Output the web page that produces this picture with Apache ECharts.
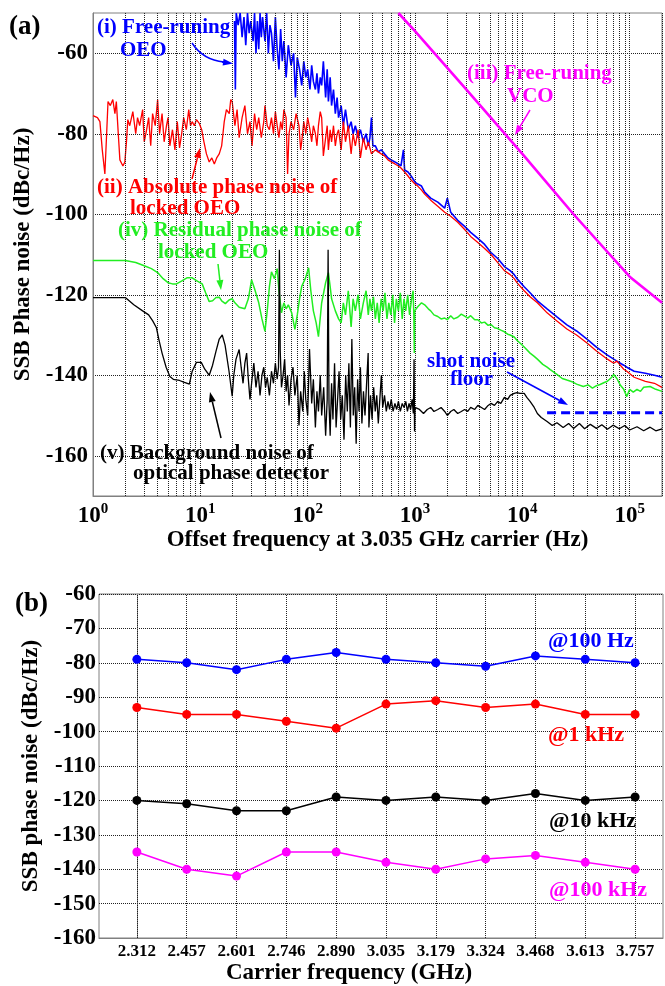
<!DOCTYPE html>
<html>
<head>
<meta charset="utf-8">
<script src="https://cdn.jsdelivr.net/npm/echarts@6/dist/echarts.min.js"></script>
<style>
html,body{margin:0;padding:0;background:#fff}
#chart{width:665px;height:986px}
</style>
</head>
<body>
<div id="chart"></div>
<script>
// ---- panel (a): phase noise traces, [offset Hz, dBc/Hz] ----
var freeOeo = [[20.8,-52],[21.2,-69],[21.6,-50],[22.5,-53],[23.5,-50],[24.5,-56],[25.5,-51],[26.5,-58],[27.5,-50],[28.5,-55],[29.5,-52],[31,-57],[32,-50],[33,-60],[34,-52],[35,-59],[36,-50],[37,-56],[38,-51],[40,-57],[41.5,-50],[43,-60],[44.5,-53],[46,-55],[48,-62],[50,-51],[52,-59],[54,-64],[56,-54],[58,-62],[60,-57],[63,-66],[66,-58],[70,-63],[74,-60],[77,-71],[80,-61],[84,-64],[88,-68],[92,-62],[96,-66],[100,-64],[105,-69],[109,-63],[113,-67],[118,-69],[122,-65],[126,-70],[131,-66],[135,-68],[140,-62],[147,-71],[152,-64],[156,-72],[162,-66],[167,-73],[174,-69],[181,-75],[188,-71],[194,-76],[205,-73],[215,-78],[225,-74],[239,-79],[254,-77],[265,-80],[278,-78],[295,-81],[310,-79],[330,-82],[350,-80],[367,-83],[380,-81],[393,-76],[405,-83],[427,-83],[454,-84.5],[484,-84],[520,-85],[560,-86],[600,-86.5],[650,-87],[700,-87.5],[740,-88],[780,-84],[800,-89],[860,-89.5],[920,-90.5],[1000,-92],[1060,-92.5],[1150,-93],[1230,-94.5],[1400,-96],[1630,-97],[1890,-98.5],[2000,-96],[2150,-99.5],[2500,-101.5],[2900,-103],[3300,-104.5],[3850,-106],[4450,-107.5],[5100,-109.5],[5900,-111],[6800,-113],[7700,-114],[8400,-115],[8900,-116],[10400,-118],[11800,-119.5],[13800,-121.5],[17000,-123.5],[21000,-125.5],[26000,-127.5],[32000,-129],[40000,-131],[49000,-133],[62000,-135],[71000,-136],[76000,-136.5],[88000,-137.5],[94000,-138],[110000,-139],[140000,-139.5],[170000,-140],[200000,-140.5]];

var lockedOeo = [[1,-75.5],[1.1,-76],[1.16,-77],[1.22,-84],[1.29,-90],[1.34,-80],[1.38,-72],[1.45,-73],[1.53,-71.5],[1.6,-75],[1.65,-72],[1.72,-80],[1.78,-86.5],[1.9,-88],[1.98,-87],[2.05,-82],[2.11,-76.5],[2.2,-78],[2.35,-74.5],[2.5,-80],[2.6,-76],[2.72,-78],[2.9,-74],[3.0,-82],[3.16,-79],[3.3,-76],[3.45,-83],[3.59,-75],[3.8,-78],[4.0,-71.5],[4.17,-80],[4.4,-75],[4.6,-82],[4.84,-78],[5.0,-76],[5.2,-83],[5.5,-79],[5.8,-84],[6.1,-77],[6.4,-83.5],[6.7,-80],[7.0,-76],[7.4,-79],[7.8,-74],[8.1,-78],[8.4,-77],[8.8,-78],[9.2,-76.5],[9.8,-77.5],[10.3,-79],[10.8,-82],[11.4,-85],[12.1,-87],[12.8,-86],[13.5,-87.5],[14.2,-86],[15,-85],[15.8,-83],[16.7,-77],[17.5,-74],[18.6,-75],[19.2,-71.5],[19.8,-72],[21,-78],[22,-74],[23,-81],[24.5,-76],[26,-73],[27.5,-80],[29,-77],[30.3,-83],[32,-75],[33.5,-79],[35,-76],[37,-81],[39,-77],[40,-73],[42,-78],[44,-79],[46,-76],[48,-80],[50,-74.5],[52,-78],[54,-81],[56,-77],[58,-79],[60,-74],[63,-76],[65,-90],[67,-80],[70,-77],[74,-79],[78,-75],[83,-78],[86,-84],[88,-82],[92,-77],[96,-80],[100,-76],[105,-79],[109,-82],[113,-78],[118,-80],[122,-83],[126,-78],[131,-74.5],[135,-76],[140,-85.5],[147,-81],[152,-78],[156,-84],[162,-79],[167,-82],[174,-78],[181,-83],[188,-80],[194,-79],[205,-84],[215,-77],[225,-82],[239,-78],[254,-85],[265,-80],[278,-83],[295,-79],[310,-86],[330,-81],[350,-84],[367,-82],[393,-85],[427,-84],[454,-84.5],[484,-85],[520,-85.5],[560,-86.5],[600,-87],[650,-87.5],[700,-88],[740,-88.5],[800,-89.5],[860,-90.5],[920,-91.5],[1000,-92.5],[1060,-93],[1150,-94],[1230,-95],[1400,-96.5],[1630,-98],[1890,-99.5],[2150,-100.5],[2500,-102],[2900,-103.8],[3300,-105.5],[3850,-107],[4450,-108.5],[5100,-110],[5900,-112],[6800,-114],[7700,-115],[8400,-116],[8900,-117],[10400,-119],[11800,-120.5],[13800,-122],[17000,-124.5],[21000,-126.5],[26000,-128.5],[32000,-130],[40000,-132],[49000,-134],[62000,-136],[71000,-137],[76000,-136.5],[88000,-138.5],[94000,-139],[110000,-140.5],[140000,-141.5],[170000,-142],[200000,-143]];

var freeVco = [[700,-50],[1000,-54.5],[3000,-69],[10000,-85],[30000,-100],[100000,-115.5],[200000,-122]];

var residual = [[1,-111.5],[2,-111.5],[2.5,-112],[3,-112.8],[3.5,-113.5],[4,-114.5],[4.5,-116],[5,-117],[5.5,-117.3],[6,-117.3],[6.8,-116.5],[7.5,-115.8],[8.4,-115.8],[9.2,-116.5],[10.4,-117.3],[11.2,-119.5],[12.1,-121.7],[13,-121.5],[14,-120.7],[15,-120.6],[15.8,-121.5],[17.1,-122.2],[18.5,-121.3],[19.8,-121],[21,-122],[23,-123.1],[26,-123.5],[28,-121],[30,-116.3],[32,-118.5],[35,-122],[37.5,-126],[40,-129.1],[42,-124],[44,-118],[46,-114.3],[49,-116],[52,-113.5],[54,-119],[57,-124.5],[60,-122],[63,-123.5],[66,-122.5],[71,-124.5],[76,-128.6],[80,-125],[84,-121],[88,-117.9],[95,-116],[102,-113.3],[107,-119],[113,-124],[120,-127],[126,-130.4],[135,-122],[147,-117],[156,-114.5],[162,-118],[167,-121],[181,-124],[194,-126],[205,-127],[215,-122],[225,-125],[239,-119],[254,-128],[265,-121],[278,-124],[295,-120],[310,-126],[330,-122],[350,-119],[367,-125],[380,-121],[393,-124],[410,-120.5],[427,-126],[445,-122],[463,-127],[484,-121],[505,-124],[525,-119.5],[548,-126],[570,-122],[595,-125],[620,-120],[645,-127],[670,-121],[700,-124],[730,-119.5],[760,-126],[790,-121],[820,-124],[855,-120],[890,-125],[930,-121],[960,-119],[975,-125],[985,-134.5],[992,-124],[1000,-124],[1060,-123],[1150,-122],[1230,-122.5],[1330,-123.5],[1400,-124],[1500,-125],[1630,-125.4],[1750,-126],[1890,-125.8],[2000,-126.2],[2150,-125.2],[2300,-126],[2500,-125.6],[2700,-124.8],[2900,-125.3],[3100,-125.8],[3300,-125.2],[3600,-126.2],[3850,-126.2],[4150,-127],[4450,-126.8],[4800,-127.6],[5100,-127.4],[5500,-128.2],[5900,-128.4],[6300,-128.8],[6800,-129.2],[7300,-129.8],[7700,-130],[8400,-130.5],[8900,-131.3],[9500,-132],[10400,-133],[11800,-134.5],[12900,-135.3],[13800,-136],[15500,-137.3],[17000,-138],[18200,-138.6],[21000,-139.8],[23500,-140.8],[26000,-141.2],[29000,-141.6],[32000,-142.2],[37000,-142.8],[41000,-142.4],[45000,-143.2],[49000,-142.6],[53000,-142.3],[58000,-141.8],[62000,-141.5],[68000,-140.5],[71000,-139.8],[76000,-140.8],[82000,-142.5],[88000,-143.5],[94000,-145.3],[100000,-143.5],[108000,-144.2],[117000,-143.5],[126000,-144],[135000,-143],[155000,-142.8],[175000,-143.5],[200000,-144]];

var background = [[1,-120.7],[2,-120.7],[2.4,-122.5],[2.9,-124],[3.3,-125],[3.6,-126.5],[3.9,-128.2],[4.1,-131],[4.4,-134.5],[4.8,-138],[5.2,-140.3],[5.6,-141],[6.4,-141.3],[7.0,-141.7],[7.9,-142.2],[8.4,-139],[9.2,-136.8],[10.2,-136.8],[11,-138.5],[12.1,-140],[13,-137.5],[14,-134],[15,-131],[16,-130],[17,-132.5],[18.5,-139],[19.8,-145.2],[20.5,-140],[21.5,-136],[23,-133.6],[24,-138],[25,-142],[26,-137],[27,-134.5],[28,-141],[29,-146],[30.3,-141],[31.5,-137],[33,-143],[34.5,-139],[36,-145],[37.5,-140],[39,-138],[40.5,-143],[42,-140.5],[44,-145],[46,-139],[48,-142],[50,-137],[52,-141],[53.5,-138],[54.5,-108.8],[55.5,-134],[57,-143],[59,-140],[61,-136],[63,-144],[65,-140],[67,-147.5],[70,-141],[73,-138],[76,-145],[80,-140],[83,-152.5],[86,-144],[90,-149],[93,-139],[96,-146],[100,-150],[104,-133.5],[109,-147],[113,-141],[118,-153],[122,-144],[126,-149],[131,-140],[135,-150],[141,-143],[147,-155],[152,-146],[155,-108.8],[158,-147],[162,-155],[167,-142],[172,-151],[178,-137],[184,-153],[190,-146],[196,-139],[203,-151],[210,-145],[218,-156],[226,-140],[234,-149],[242,-137],[250,-153],[258,-131],[266,-150],[274,-143],[283,-157],[292,-141],[301,-149],[310,-138],[320,-152],[331,-144],[342,-150],[354,-142],[366,-134.5],[372,-153],[385,-145],[398,-151],[412,-143],[426,-149],[440,-145],[455,-152],[470,-146],[486,-140],[500,-148],[520,-145],[540,-149],[560,-146.5],[580,-148.5],[600,-146],[625,-149],[650,-147],[675,-148.5],[700,-146.5],[730,-149],[760,-147],[790,-148],[820,-146.5],[850,-149],[880,-147],[910,-148.5],[940,-146],[965,-149.5],[980,-136],[990,-154],[1000,-148],[1100,-148.5],[1200,-149.5],[1300,-148.5],[1400,-148],[1500,-149],[1630,-148.5],[1750,-148],[1890,-149],[2000,-150],[2150,-149],[2300,-148.5],[2500,-149.5],[2700,-149],[2900,-148.5],[3100,-149],[3300,-148],[3600,-148.5],[3850,-147.5],[4150,-148],[4450,-148.5],[4800,-147.5],[5100,-147],[5500,-147.5],[5900,-146.5],[6300,-147],[6800,-145.5],[7300,-146],[7700,-145],[8400,-144.5],[8900,-144.3],[9500,-144.5],[10400,-144.5],[11000,-145.5],[11800,-146.5],[12900,-148],[13800,-149.5],[15000,-150.5],[17000,-151.5],[19000,-152.5],[21000,-151.8],[24000,-153],[27000,-152],[30000,-153.2],[34000,-152],[38000,-153.3],[43000,-152.2],[49000,-153.2],[55000,-152.3],[62000,-153.4],[70000,-152.4],[80000,-153.3],[90000,-152.5],[100000,-153.6],[117000,-152.8],[135000,-153.8],[155000,-152.9],[175000,-153.8],[200000,-153.3]];

var shotFloor = [[17000,-149.3],[200000,-149.3]];

// ---- panel (b): phase noise vs carrier ----
var carriers = ['2.312','2.457','2.601','2.746','2.890','3.035','3.179','3.324','3.468','3.613','3.757'];
var pn100Hz  = [-79,-80,-82,-79,-77,-79,-80,-81,-78,-79,-80];
var pn1kHz   = [-93,-95,-95,-97,-99,-92,-91,-93,-92,-95,-95];
var pn10kHz  = [-120,-121,-123,-123,-119,-120,-119,-120,-118,-120,-119];
var pn100kHz = [-135,-140,-142,-135,-135,-138,-140,-137,-136,-138,-140];

var SERIF = '"Liberation Serif","Times New Roman",serif';
var BLUE = '#0000ff', RED = '#ff0000', GREEN = '#22ee22', MAG = '#ff00ff', BLACK = '#000000';

// minor log grid lines 2..9 per decade
var minorLines = [];
for (var d = 1; d <= 10000; d *= 10) {
  for (var k = 2; k <= 9; k++) minorLines.push({xAxis: k * d});
}
var xIdx = carriers.map(function (c, i) { return i; });
var carrierLines = xIdx.map(function (i) { return {xAxis: i}; });

function txt(s, x, y, color, size) {
  return {type: 'text', x: x, y: y, z: 100,
    style: {text: s, fill: color, font: 'bold ' + size + 'px ' + SERIF, align: 'left', verticalAlign: 'middle'}};
}
function arrow(x1, y1, x2, y2, color) {
  var a = Math.atan2(y2 - y1, x2 - x1), L = 10, W = 3.5;
  var bx = x2 - L * Math.cos(a), by = y2 - L * Math.sin(a);
  return [
    {type: 'line', z: 100, shape: {x1: x1, y1: y1, x2: bx, y2: by}, style: {stroke: color, lineWidth: 1.5}},
    {type: 'polygon', z: 100, shape: {points: [[x2, y2], [bx + W * Math.sin(a), by - W * Math.cos(a)], [bx - W * Math.sin(a), by + W * Math.cos(a)]]}, style: {fill: color}}
  ];
}

var graphics = [
  txt('(a)', 9, 27, BLACK, 27),
  txt('(b)', 15, 604, BLACK, 27),
  txt('(i) Free-runing', 97, 28, BLUE, 21),
  txt('OEO', 120, 51, BLUE, 21),
  txt('(iii) Free-runing', 467, 74, MAG, 21),
  txt('VCO', 507, 97, MAG, 21),
  txt('(ii) Absolute phase noise of', 97, 188, RED, 21),
  txt('locked OEO', 130, 209, RED, 21),
  txt('(iv) Residual phase noise of', 118, 231, GREEN, 21),
  txt('locked OEO', 158, 253, GREEN, 21),
  txt('(v) Background noise of', 100, 454, BLACK, 21),
  txt('optical phase detector', 133, 474, BLACK, 21),
  txt('shot noise', 427, 362, BLUE, 21),
  txt('floor', 450, 380, BLUE, 21),
  txt('@100 Hz', 548, 641, BLUE, 22),
  txt('@1 kHz', 548, 735, RED, 22),
  txt('@10 kHz', 549, 821, BLACK, 22),
  txt('@100 kHz', 549, 890, MAG, 22),
  {type: 'bezierCurve', z: 100, shape: {x1: 192, y1: 43, cpx1: 203, cpy1: 60, x2: 224, y2: 62}, style: {stroke: BLUE, lineWidth: 1.5, fill: null}}
];
graphics = graphics
  .concat(arrow(222, 62, 233, 63.5, BLUE))
  .concat(arrow(530, 110, 515, 135, MAG))
  .concat(arrow(192, 179, 200, 148, RED))
  .concat(arrow(218, 264, 221, 290, GREEN))
  .concat(arrow(221, 438, 210, 392, BLACK))
  .concat(arrow(507, 372, 568, 405, BLUE));

var dotted = {type: 'dotted', color: '#222', width: 1};
var tickFont = {color: '#000', fontFamily: SERIF, fontWeight: 'bold'};
var yTicksA = [-160, -140, -120, -100, -80, -60];

function traceA(name, data, color, width, z) {
  return {name: name, type: 'line', xAxisIndex: 0, yAxisIndex: 0, data: data, showSymbol: false, symbol: 'none',
    lineStyle: {color: color, width: width}, z: z, silent: true};
}
function traceB(name, vals, color) {
  return {name: name, type: 'line', xAxisIndex: 1, yAxisIndex: 1,
    data: vals.map(function (v, i) { return [i, v]; }),
    symbol: 'circle', symbolSize: 9, itemStyle: {color: color}, lineStyle: {color: color, width: 1.5}, z: 5};
}
function gridLines(xi, yi, lines) {
  return {name: 'grid', type: 'line', xAxisIndex: xi, yAxisIndex: yi, data: [], silent: true, z: 1,
    markLine: {silent: true, symbol: ['none', 'none'], label: {show: false}, animation: false,
      lineStyle: dotted, emphasis: {disabled: true}, data: lines}};
}

var chart = echarts.init(document.getElementById('chart'), null, {renderer: 'canvas'});
chart.setOption({
  animation: false,
  backgroundColor: '#fff',
  grid: [
    {left: 93, right: -1, top: 13, bottom: 490, show: true, borderColor: '#808080', borderWidth: 1, backgroundColor: 'transparent'},
    {left: 99, right: 2, top: 594, bottom: 47, show: true, borderColor: '#808080', borderWidth: 1, backgroundColor: 'transparent'}
  ],
  xAxis: [
    {gridIndex: 0, type: 'log', logBase: 10, min: 1, max: 200000,
      name: 'Offset frequency at 3.035 GHz carrier (Hz)', nameLocation: 'middle', nameGap: 33,
      nameTextStyle: {fontSize: 23, fontWeight: 'bold', fontFamily: SERIF, color: '#000'},
      axisLine: {show: true, lineStyle: {color: '#808080'}}, axisTick: {show: false},
      axisLabel: {margin: 6, formatter: function (v) {
          var n = Math.round(Math.log10(v));
          return Math.abs(v - Math.pow(10, n)) < 1e-6 * v ? '{b|10}{s|' + n + '}' : '';
        },
        rich: {b: {fontSize: 23, fontWeight: 'bold', fontFamily: SERIF, color: '#000', lineHeight: 28},
               s: {fontSize: 15, fontWeight: 'bold', fontFamily: SERIF, color: '#000', verticalAlign: 'top', lineHeight: 15}}},
      splitLine: {show: true, lineStyle: dotted}},
    {gridIndex: 1, type: 'value', min: -0.76, max: 10.56,
      name: 'Carrier frequency (GHz)', nameLocation: 'middle', nameGap: 24,
      nameTextStyle: {fontSize: 23, fontWeight: 'bold', fontFamily: SERIF, color: '#000', padding: [0, 64, 0, 0]},
      axisLine: {show: true, lineStyle: {color: '#808080'}},
      axisTick: {show: false, customValues: xIdx},
      axisLabel: Object.assign({fontSize: 17, margin: 5, customValues: xIdx,
        formatter: function (v) { return carriers[Math.round(v)] || ''; }}, tickFont),
      splitLine: {show: false}}
  ],
  yAxis: [
    {gridIndex: 0, type: 'value', min: -170, max: -50,
      name: 'SSB Phase noise (dBc/Hz)', nameLocation: 'middle', nameGap: 56,
      nameTextStyle: {fontSize: 23, fontWeight: 'bold', fontFamily: SERIF, color: '#000'},
      axisLine: {show: true, lineStyle: {color: '#808080'}},
      axisTick: {show: false, customValues: yTicksA},
      axisLabel: Object.assign({fontSize: 23, margin: 5, customValues: yTicksA}, tickFont),
      splitLine: {show: true, lineStyle: dotted}},
    {gridIndex: 1, type: 'value', min: -160, max: -60, interval: 10,
      name: 'SSB phase noise (dBc/Hz)', nameLocation: 'middle', nameGap: 55,
      nameTextStyle: {fontSize: 23, fontWeight: 'bold', fontFamily: SERIF, color: '#000'},
      axisLine: {show: true, lineStyle: {color: '#808080'}}, axisTick: {show: false},
      axisLabel: Object.assign({fontSize: 23, margin: 3}, tickFont),
      splitLine: {show: true, lineStyle: dotted}}
  ],
  series: [
    gridLines(0, 0, minorLines),
    gridLines(1, 1, carrierLines),
    traceA('(i) Free-running OEO', freeOeo, BLUE, 1.6, 3),
    traceA('(ii) Absolute phase noise of locked OEO', lockedOeo, RED, 1.3, 4),
    traceA('(iii) Free-running VCO', freeVco, MAG, 2.6, 5),
    traceA('(iv) Residual phase noise of locked OEO', residual, GREEN, 1.5, 6),
    traceA('(v) Background noise of optical phase detector', background, BLACK, 1.3, 7),
    {name: 'shot noise floor', type: 'line', xAxisIndex: 0, yAxisIndex: 0, data: shotFloor, symbol: 'none',
      lineStyle: {color: BLUE, width: 3, type: [9, 5]}, z: 8, silent: true},
    traceB('@100 Hz', pn100Hz, BLUE),
    traceB('@1 kHz', pn1kHz, RED),
    traceB('@10 kHz', pn10kHz, BLACK),
    traceB('@100 kHz', pn100kHz, MAG)
  ],
  graphic: graphics
});
</script>
</body>
</html>
